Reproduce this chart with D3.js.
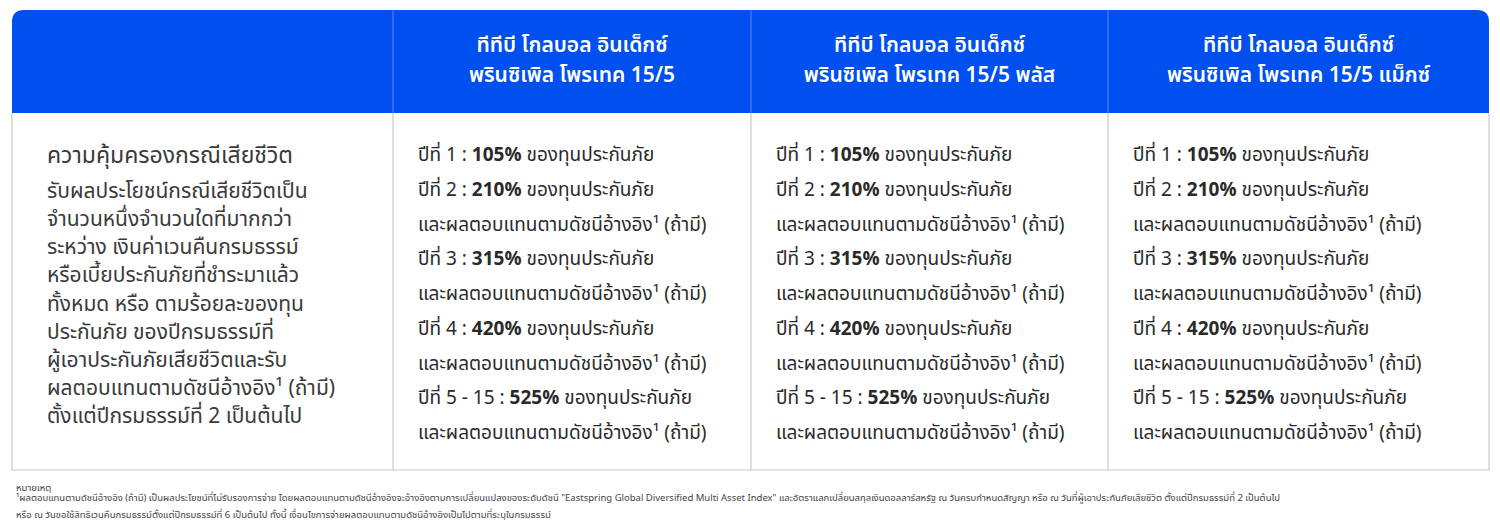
<!DOCTYPE html>
<html><head><meta charset="utf-8">
<script src="https://cdn.jsdelivr.net/npm/d3@7"></script>
<style>body{margin:0;background:#fff}</style></head>
<body><svg id="c" width="1500" height="532"></svg>
<script>
const headers = [
  ["ทีทีบี โกลบอล อินเด็กซ์", "พรินซิเพิล โพรเทค 15/5"],
  ["ทีทีบี โกลบอล อินเด็กซ์", "พรินซิเพิล โพรเทค 15/5 พลัส"],
  ["ทีทีบี โกลบอล อินเด็กซ์", "พรินซิเพิล โพรเทค 15/5 แม็กซ์"]
];
const leftTitle = "ความคุ้มครองกรณีเสียชีวิต";
const leftLines = ["รับผลประโยชน์กรณีเสียชีวิตเป็น","จำนวนหนึ่งจำนวนใดที่มากกว่า","ระหว่าง เงินค่าเวนคืนกรมธรรม์","หรือเบี้ยประกันภัยที่ชำระมาแล้ว","ทั้งหมด หรือ ตามร้อยละของทุน","ประกันภัย ของปีกรมธรรม์ที่","ผู้เอาประกันภัยเสียชีวิตและรับ","ผลตอบแทนตามดัชนีอ้างอิง¹ (ถ้ามี)","ตั้งแต่ปีกรมธรรม์ที่ 2 เป็นต้นไป"];
const years = ["ปีที่ 1 : ","ปีที่ 2 : ","ปีที่ 3 : ","ปีที่ 4 : ","ปีที่ 5 - 15 : "];
const percents = ["105%","210%","315%","420%","525%"];
const suffix = " ของทุนประกันภัย";
const extra = "และผลตอบแทนตามดัชนีอ้างอิง¹ (ถ้ามี)";
const notes = ["หมายเหตุ",
 "¹ผลตอบแทนตามดัชนีอ้างอิง (ถ้ามี) เป็นผลประโยชน์ที่ไม่รับรองการจ่าย โดยผลตอบแทนตามดัชนีอ้างอิงจะอ้างอิงตามการเปลี่ยนแปลงของระดับดัชนี \"Eastspring Global Diversified Multi Asset Index\" และอัตราแลกเปลี่ยนสกุลเงินดอลลาร์สหรัฐ ณ วันครบกำหนดสัญญา หรือ ณ วันที่ผู้เอาประกันภัยเสียชีวิต ตั้งแต่ปีกรมธรรม์ที่ 2 เป็นต้นไป",
 "หรือ ณ วันขอใช้สิทธิเวนคืนกรมธรรม์ตั้งแต่ปีกรมธรรม์ที่ 6 เป็นต้นไป ทั้งนี้ เงื่อนไขการจ่ายผลตอบแทนตามดัชนีอ้างอิงเป็นไปตามที่ระบุในกรมธรรม์"];

(function(){
const svg = d3.select("#c");
const F = "'Noto Sans Thai','Noto Sans','DejaVu Sans',sans-serif";
const x = d3.scaleOrdinal().domain([0,1,2,3]).range([12,393,751,1108]);
const colEnd = [393,751,1108,1489];
const y0=10, hb=113, bottom=470, R=12;
svg.append("path").attr("fill","#0050ef")
  .attr("d",`M12,${hb} V${y0+R} Q12,${y0} ${12+R},${y0} H${1489-R} Q1489,${y0} 1489,${y0+R} V${hb} Z`);
svg.append("path").attr("fill","none").attr("stroke","#c8c8c8").attr("stroke-width",1.2)
  .attr("d",`M12,${hb} V${bottom} H1489 V${hb}`);
[1,2,3].forEach(i=>{
  svg.append("line").attr("x1",x(i)).attr("x2",x(i)).attr("y1",y0).attr("y2",hb).attr("stroke","#5b86f0").attr("stroke-width",1);
  svg.append("line").attr("x1",x(i)).attr("x2",x(i)).attr("y1",hb).attr("y2",bottom).attr("stroke","#c8c8c8").attr("stroke-width",1.2);
});
headers.forEach((h,i)=>{
  const cx=(x(i+1)+colEnd[i+1])/2;
  h.forEach((t,j)=>svg.append("text").attr("x",cx).attr("y",52+j*30).attr("text-anchor","middle")
    .attr("fill","#fff").attr("font-family",F).attr("font-size",21).attr("font-weight",600).text(t));
});
svg.append("text").attr("x",47).attr("y",163).attr("font-family",F).attr("font-size",23).attr("fill","#3a3a3a").text(leftTitle);
const ly=d3.scaleLinear().domain([0,leftLines.length-1]).range([198,423]);
leftLines.forEach((t,i)=>svg.append("text").attr("x",47).attr("y",ly(i)).attr("font-family",F).attr("font-size",21).attr("fill","#3a3a3a").text(t));
const rows=[];
years.forEach((y,i)=>{rows.push({y,p:percents[i]}); if(i>0) rows.push({e:true});});
const ry=d3.scaleLinear().domain([0,rows.length-1]).range([161,439]);
[1,2,3].forEach(c=>{
  rows.forEach((r,i)=>{
    const t=svg.append("text").attr("x",x(c)+25).attr("y",ry(i)).attr("font-family",F).attr("font-size",19).attr("fill","#2a2a2a");
    if(r.e){t.text(extra);}
    else{t.append("tspan").text(r.y);t.append("tspan").attr("font-weight",700).text(r.p);t.append("tspan").text(suffix);}
  });
});
notes.forEach((t,i)=>svg.append("text").attr("x",16).attr("y",[491,501,518][i]).attr("font-family",F)
  .attr("font-size",9.5).attr("fill","#444").text(t));
})();
</script></body></html>
